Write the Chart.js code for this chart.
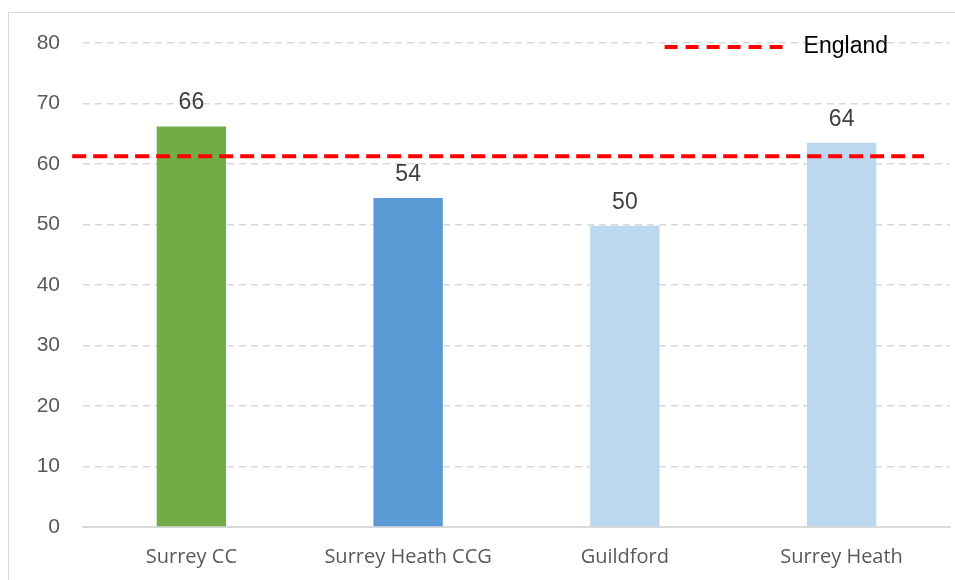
<!DOCTYPE html>
<html>
<head>
<meta charset="utf-8">
<script src="https://cdn.jsdelivr.net/npm/chart.js@4"></script>
<style>
  html, body { margin: 0; padding: 0; background: #fff; overflow: hidden; }
  #frame { position: absolute; left: 8px; top: 12px; width: 990px; height: 620px; border: 1px solid #d9d9d9; }
  #wrap { position: absolute; left: 0; top: 0; width: 955px; height: 580px; }
</style>
</head>
<body>
<div id="frame"></div>
<div id="wrap"><canvas id="chart"></canvas></div>
<script>
const areas = ['Surrey CC', 'Surrey Heath CCG', 'Guildford', 'Surrey Heath'];
const rates = [66.2, 54.4, 49.8, 63.5];
const barColors = ['#70AD47', '#5B9BD5', '#BDD7EE', '#BDD7EE'];
const yTicks = [0, 10, 20, 30, 40, 50, 60, 70, 80];

const englandLabel = 'England';
const englandValue = 61.3;
// the benchmark line starts a little left of the plot and stops short of the right edge
const englandExtent = [-0.05, 3.88];

// value labels over the bars
const barValues = {
  id: 'barValues',
  afterDatasetsDraw(chart) {
    const ctx = chart.ctx;
    const meta = chart.getDatasetMeta(0);
    ctx.save();
    ctx.font = '23px "Liberation Sans", Arial, sans-serif';
    ctx.fillStyle = '#404040';
    ctx.textAlign = 'center';
    ctx.textBaseline = 'bottom';
    meta.data.forEach((bar, i) => {
      ctx.fillText(Math.round(rates[i]), bar.x, bar.y - 12);
    });
    ctx.restore();
  }
};

// legend sits inside the plot, top right
const insideLegend = {
  id: 'insideLegend',
  afterDraw(chart) {
    const ctx = chart.ctx;
    const area = chart.chartArea;
    const ds = chart.data.datasets[1];
    ctx.save();
    ctx.font = '23px "Liberation Sans", Arial, sans-serif';
    const tw = ctx.measureText(ds.label).width;
    const tx = area.right - 62 - tw;
    const y = area.top + 4;
    ctx.strokeStyle = ds.borderColor;
    ctx.lineWidth = ds.borderWidth;
    ctx.setLineDash([13, 8]);
    ctx.beginPath();
    ctx.moveTo(tx - 139, y);
    ctx.lineTo(tx - 16, y);
    ctx.stroke();
    ctx.setLineDash([]);
    ctx.fillStyle = '#000';
    ctx.textBaseline = 'middle';
    ctx.fillText(ds.label, tx, y);
    ctx.restore();
  }
};

new Chart(document.getElementById('chart'), {
  type: 'bar',
  data: {
    labels: areas,
    datasets: [{
      type: 'bar',
      label: 'Rate',
      data: rates,
      backgroundColor: barColors,
      grouped: false,
      barPercentage: 0.32,
      categoryPercentage: 1,
      order: 2
    }, {
      type: 'line',
      label: englandLabel,
      xAxisID: 'xe',
      data: englandExtent.map(x => ({ x: x, y: englandValue })),
      borderColor: '#FF0000',
      borderWidth: 4,
      borderDash: [14, 7],
      pointRadius: 0,
      fill: false,
      clip: false,
      order: 1
    }]
  },
  options: {
    responsive: true,
    maintainAspectRatio: false,
    animation: false,
    layout: { padding: { left: 0, right: 5, top: 43, bottom: 0 } },
    plugins: {
      legend: { display: false },
      tooltip: { enabled: false }
    },
    scales: {
      x: {
        type: 'category',
        grid: { display: false, drawTicks: false },
        border: { display: true, color: '#d9d9d9', width: 2 },
        ticks: {
          padding: 18,
          color: '#595959',
          font: { family: '"Open Sans", sans-serif', size: 20 }
        },
        afterFit(scale) { scale.height = 53; }
      },
      xe: {
        type: 'linear',
        display: false,
        offset: false,
        min: 0,
        max: areas.length
      },
      y: {
        min: 0,
        max: 80,
        afterBuildTicks(scale) { scale.ticks = yTicks.map(v => ({ value: v })); },
        grid: { color: '#d9d9d9', lineWidth: 1.5, drawTicks: false },
        border: { display: false, dash: [7, 5] },
        ticks: {
          padding: 23,
          color: '#595959',
          font: { family: '"Liberation Sans", Arial, sans-serif', size: 21 }
        },
        afterFit(scale) { scale.width = 83; }
      }
    }
  },
  plugins: [barValues, insideLegend]
});
</script>
</body>
</html>
